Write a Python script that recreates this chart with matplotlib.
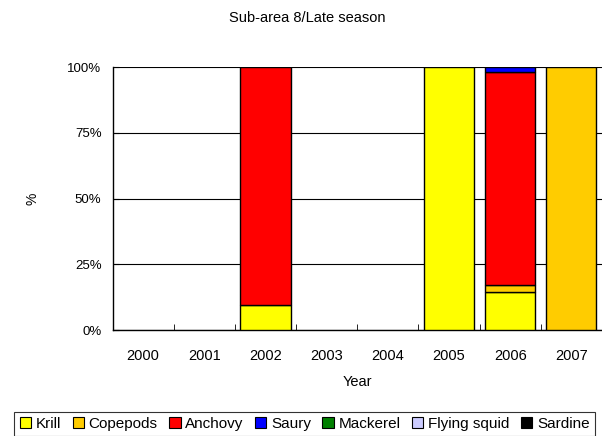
import matplotlib
matplotlib.use('Agg')
import matplotlib.pyplot as plt
import numpy as np
from matplotlib.ticker import FixedLocator

plt.rcParams['font.family'] = ['Liberation Sans', 'DejaVu Sans']

years = ['2000', '2001', '2002', '2003', '2004', '2005', '2006', '2007']
species = ['Krill', 'Copepods', 'Anchovy', 'Saury', 'Mackerel', 'Flying squid', 'Sardine']
colors = ['#ffff00', '#ffcc00', '#ff0000', '#0000ff', '#008000', '#ccccff', '#000000']

# percent composition per year
krill = [0, 0, 9.4, 0, 0, 100, 14.3, 0]
copepods = [0, 0, 0, 0, 0, 0, 2.7, 100]
anchovy = [0, 0, 90.6, 0, 0, 0, 81.3, 0]
saury = [0, 0, 0, 0, 0, 0, 1.7, 0]
mackerel = [0, 0, 0, 0, 0, 0, 0, 0]
flying_squid = [0, 0, 0, 0, 0, 0, 0, 0]
sardine = [0, 0, 0, 0, 0, 0, 0, 0]
series = [krill, copepods, anchovy, saury, mackerel, flying_squid, sardine]

fig = plt.figure(figsize=(6.02, 4.36), dpi=100)
ax = fig.add_axes([0.187, 0.243, 0.813, 0.603])

x = np.arange(len(years))
bottom = np.zeros(len(years))
for name, vals, c in zip(species, series, colors):
    v = np.array(vals, dtype=float)
    mask = v > 0
    ax.bar(x[mask], v[mask], 0.82, bottom=bottom[mask], color=c, edgecolor='black',
           linewidth=1.0, zorder=3)
    ax.bar([np.nan], [0], color=c, edgecolor='black', linewidth=0.8, label=name)
    bottom += v

ax.set_xlim(-0.5, len(years) - 0.5)
ax.set_ylim(0, 100)
ax.set_yticks([0, 25, 50, 75, 100])
ax.set_yticklabels(['0%', '25%', '50%', '75%', '100%'], fontsize=9.5)
ax.yaxis.grid(True, color='black', linewidth=0.8, zorder=0)
ax.set_xticks(x)
ax.set_xticklabels(years, fontsize=10.5)
ax.tick_params(axis='x', which='major', length=0, pad=14)
ax.xaxis.set_minor_locator(FixedLocator(np.arange(0.5, len(years) - 0.5, 1)))
ax.tick_params(axis='x', which='minor', direction='in', length=4)
ax.tick_params(axis='y', direction='in', length=4, pad=8)
for s in ['top', 'right']:
    ax.spines[s].set_visible(False)
ax.spines['left'].set_linewidth(1.0)
ax.spines['bottom'].set_linewidth(1.0)

ax.set_xlabel('Year', fontsize=10.5, labelpad=8)
ax.set_ylabel('%', fontsize=10, labelpad=20)
fig.text(0.51, 0.958, 'Sub-area 8/Late season', ha='center', va='center', fontsize=10.5)

leg = fig.legend(loc='lower center', bbox_to_anchor=(0.506, -0.018), ncol=7, fontsize=11,
                 frameon=True, fancybox=False, edgecolor='black', handlelength=0.75,
                 handleheight=0.75, handletextpad=0.3, columnspacing=0.75, borderpad=0.35)
leg.get_frame().set_linewidth(0.8)

fig.savefig('out.png', dpi=100)
